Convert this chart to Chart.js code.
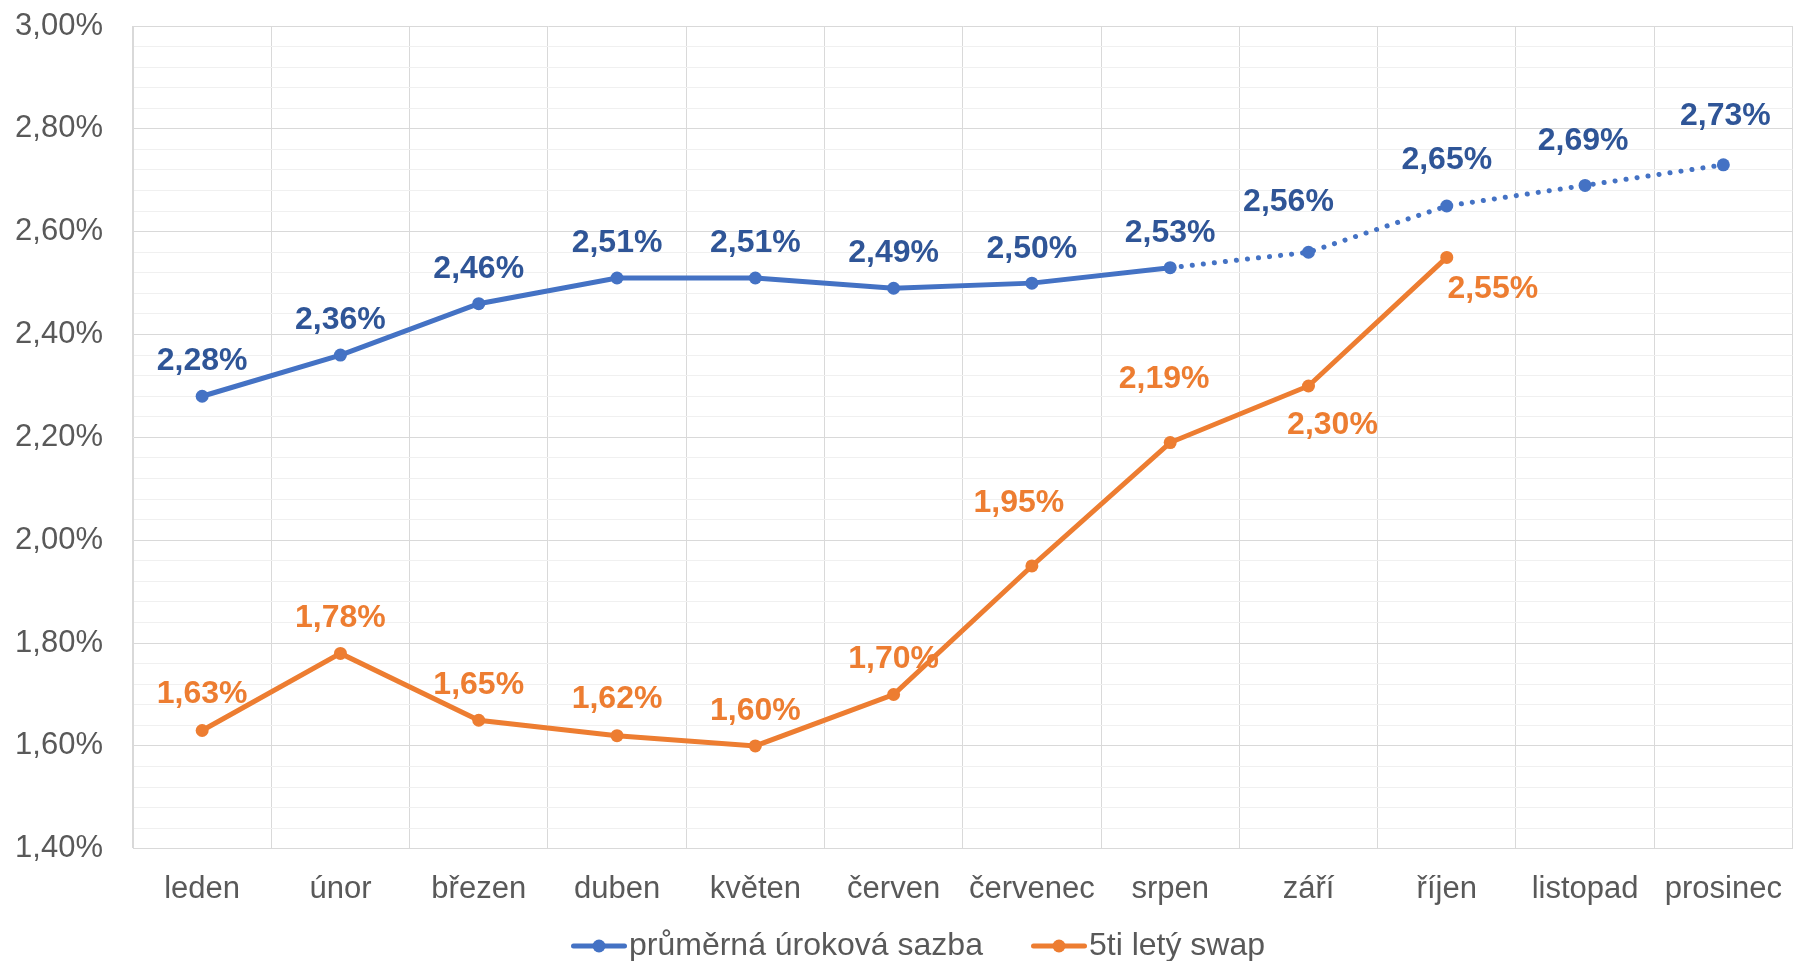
<!DOCTYPE html>
<html>
<head>
<meta charset="utf-8">
<script src="https://cdn.jsdelivr.net/npm/chart.js@4.4.1/dist/chart.umd.min.js"></script>
<style>
html,body{margin:0;padding:0;background:#fff;}
#wrap{width:1799px;height:961px;position:relative;}
</style>
</head>
<body>
<div id="wrap"><canvas id="c" width="1799" height="961"></canvas></div>
<script>
const categories = ['leden','únor','březen','duben','květen','červen','červenec','srpen','září','říjen','listopad','prosinec'];
const avgRate = [2.28, 2.36, 2.46, 2.51, 2.51, 2.49, 2.50, 2.53, 2.56, 2.65, 2.69, 2.73];
const swap5y = [1.63, 1.78, 1.65, 1.62, 1.60, 1.70, 1.95, 2.19, 2.30, 2.55, null, null];
const seriesNames = ['průměrná úroková sazba', '5ti letý swap'];
const dottedFromIndex = 7;

const BLUE = '#4472C4', BLUE_TXT = '#2F5597', ORANGE = '#ED7D31';
const FONT = '"Liberation Sans", Arial, sans-serif';

// label offsets (styling)
const labelOffsets = [
  [[0,-35],[0,-35],[0,-35],[0,-35],[0,-35],[0,-35],[0,-34],[0,-35],[-20,-50],[0,-46],[-2,-44],[2,-49]],
  [[0,-36],[0,-35],[0,-35],[0,-36],[0,-35],[0,-35],[-13,-63],[-6,-63],[24,39],[46,32],[0,0],[0,0]]
];

function fmt(v){ return v.toFixed(2).replace('.', ',') + '%'; }

function legendImg(color){
  const cv = document.createElement('canvas');
  cv.width = 116; cv.height = 16;
  const g = cv.getContext('2d');
  g.strokeStyle = color; g.lineWidth = 5; g.lineCap = 'round';
  g.beginPath(); g.moveTo(62.5,8); g.lineTo(113.5,8); g.stroke();
  g.fillStyle = color; g.beginPath(); g.arc(88,8,6.5,0,Math.PI*2); g.fill();
  return cv;
}

const labelPlugin = {
  id: 'valueLabels',
  afterLayout(chart){
    if (chart.legend){
      chart.legend.left -= 6; chart.legend.right -= 6;
      chart.legend.top += 11; chart.legend.bottom += 11;
    }
  },
  afterDatasetsDraw(chart){
    const ctx = chart.ctx;
    ctx.save();
    ctx.font = 'bold 32px ' + FONT;
    ctx.textAlign = 'center';
    ctx.textBaseline = 'middle';
    chart.data.datasets.forEach((ds, di) => {
      const meta = chart.getDatasetMeta(di);
      ctx.fillStyle = di === 0 ? BLUE_TXT : ORANGE;
      meta.data.forEach((pt, i) => {
        const v = ds.data[i];
        if (v === null || v === undefined) return;
        const off = labelOffsets[di][i];
        ctx.fillText(fmt(v), pt.x + off[0], pt.y + off[1]);
      });
    });
    ctx.restore();
  }
};

new Chart(document.getElementById('c'), {
  type: 'line',
  data: {
    labels: categories,
    datasets: [
      {
        label: seriesNames[0],
        data: avgRate,
        borderColor: BLUE, backgroundColor: BLUE,
        borderWidth: 5, pointRadius: 6.5, pointHoverRadius: 6.5,
        pointBackgroundColor: BLUE, pointBorderWidth: 0,
        pointStyle: 'circle',
        tension: 0,
        borderCapStyle: 'round',
        segment: {
          borderDash: c => c.p0DataIndex >= dottedFromIndex ? [0.1, 11] : undefined
        }
      },
      {
        label: seriesNames[1],
        data: swap5y,
        borderColor: ORANGE, backgroundColor: ORANGE,
        borderWidth: 5, pointRadius: 6.5, pointHoverRadius: 6.5,
        pointBackgroundColor: ORANGE, pointBorderWidth: 0,
        pointStyle: 'circle',
        tension: 0,
        spanGaps: false
      }
    ]
  },
  options: {
    responsive: false,
    animation: false,
    devicePixelRatio: 1,
    layout: { padding: { top: 26, right: -3, left: 0, bottom: 0 } },
    plugins: {
      legend: {
        position: 'bottom',
        labels: {
          usePointStyle: true,
          pointStyleWidth: 88,
          font: { size: 32, family: FONT },
          color: '#595959',
          padding: 2,
          generateLabels(chart){
            return chart.data.datasets.map((ds, i) => ({
              text: ds.label,
              pointStyle: legendImg(i === 0 ? BLUE : ORANGE),
              fillStyle: i === 0 ? BLUE : ORANGE,
              strokeStyle: 'transparent',
              lineWidth: 0,
              fontColor: '#595959',
              hidden: false,
              datasetIndex: i
            }));
          }
        }
      },
      tooltip: { enabled: false }
    },
    scales: {
      x: {
        offset: true,
        afterFit(scale){ scale.height = scale.height - 13; scale.paddingLeft = 0; scale.paddingRight = -10; },
        grid: { offset: true, color: '#d9d9d9', lineWidth: 1, drawTicks: false },
        border: { color: '#d9d9d9' },
        ticks: { font: { size: 31, family: FONT }, color: '#595959', padding: 22, maxRotation: 0, autoSkip: false }
      },
      y: {
        min: 1.4, max: 3.0,
        afterBuildTicks(scale){
          const t = [];
          for (let k = 0; k <= 40; k++) t.push({ value: Math.round((1.4 + k * 0.04) * 100) / 100 });
          scale.ticks = t;
        },
        afterFit(scale){ scale.width = 133; scale.paddingTop = 10; scale.paddingBottom = 10; },
        grid: {
          drawTicks: false,
          lineWidth: 1,
          color: c => {
            const v = c.tick ? c.tick.value : 0;
            return Math.abs(Math.round(v * 100) % 20) === 0 ? '#d9d9d9' : '#f0f0f0';
          }
        },
        border: { color: '#d9d9d9' },
        ticks: {
          autoSkip: false,
          padding: 30,
          font: { size: 31, family: FONT },
          color: '#595959',
          callback: (v) => {
            const r = Math.round(v * 100);
            return r % 20 === 0 ? (v.toFixed(2).replace('.', ',') + '%') : '';
          }
        }
      }
    }
  },
  plugins: [labelPlugin]
});
</script>
</body>
</html>
